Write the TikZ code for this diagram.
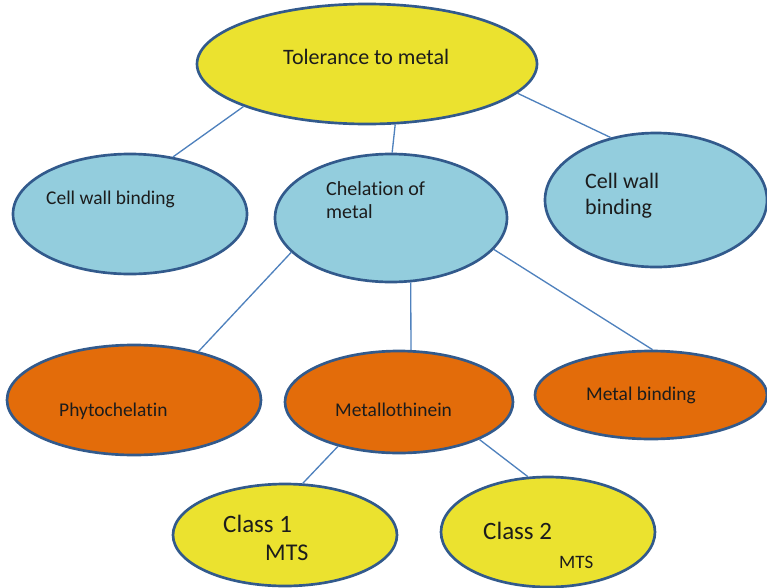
\documentclass[tikz,border=0pt]{standalone}
\usepackage{fontspec}
\setmainfont{Carlito}[Ligatures=NoCommon]
\usetikzlibrary{shapes.geometric}
\definecolor{yel}{HTML}{EBE22F}
\definecolor{sky}{HTML}{93CDDD}
\definecolor{rust}{HTML}{E36C0A}
\definecolor{rim}{HTML}{325A8C}
\definecolor{wire}{HTML}{4F81BD}
\definecolor{ink}{HTML}{1C1C1C}

\begin{document}
\begin{tikzpicture}[
  x=0.3mm, y=-0.3mm,
  every node/.append style={text=ink},
  bubble/.style 2 args={ellipse, draw=rim, line width=0.8mm, inner sep=0pt,
    minimum width=#1*0.6mm, minimum height=#2*0.6mm},
  link/.style={draw=wire, line width=0.4mm},
  lbl/.style={anchor=base west, inner sep=0pt, font=\fontsize{16.6}{20}\selectfont},
  lblbig/.style={lbl, font=\fontsize{18.8}{22}\selectfont},
  lblcls/.style={lbl, font=\fontsize{21.3}{25}\selectfont},
]
\useasboundingbox (0,0) rectangle (767,587);
% --- root ---
\node[bubble={170}{60}, fill=yel] (tol) at (367,64) {};
\node[lblbig] (t-tol) at (283,64) {Tolerance to metal};
% --- second row ---
\node[bubble={117}{60}, fill=sky] (cwl) at (130,214) {};
\node[lbl] (t-cwl) at (46,204) {Cell wall binding};
\node[bubble={116}{64}, fill=sky] (chel) at (391,218) {};
\node[lbl, font=\fontsize{17.1}{20}\selectfont] (t-chel1) at (326,195) {Chelation of};
\node[lbl, font=\fontsize{17.1}{20}\selectfont] (t-chel2) at (326,218) {metal};
\node[bubble={111}{67}, fill=sky] (cwr) at (656,200) {};
\node[lblbig] (t-cwr1) at (585,188) {Cell wall};
\node[lblbig] (t-cwr2) at (585,214) {binding};
% --- third row ---
\node[bubble={127}{55}, fill=rust] (phy) at (134,400) {};
\node[lbl] (t-phy) at (59,416) {Phytochelatin};
\node[bubble={114}{51}, fill=rust] (mt) at (399,402) {};
\node[lbl] (t-mt) at (335,416) {Metallothinein};
\node[bubble={116}{44}, fill=rust] (mb) at (651,395) {};
\node[lbl] (t-mb) at (586,400) {Metal binding};
% --- classes ---
\node[bubble={112}{51}, fill=yel] (c1) at (285,535) {};
\node[lblcls] (t-c1a) at (223,532) {Class 1};
\node[lbl, font=\fontsize{20.5}{24}\selectfont] (t-c1b) at (265,560) {MTS};
\node[bubble={107}{55}, fill=yel] (c2) at (548,532) {};
\node[lblcls] (t-c2a) at (483,539) {Class 2};
\node[lbl, font=\fontsize{16.2}{19}\selectfont] (t-c2b) at (559,568) {MTS};
% --- connectors ---
\draw[link] (tol.199.8) -- (cwl.53.9);
\draw[link] (tol.295) -- (chel.89);
\draw[link] (tol.349.4) -- (cwr.126.9);
\draw[link] (chel.199.1) -- (phy.37.1);
\draw[link] (chel.287.4) -- (mt.77.8);
\draw[link] (chel.343.2) -- (mb.88.7);
\draw[link] (mt.216.6) -- (c1.71.2);
\draw[link] (mt.335.7) -- (c2.110.9);
\end{tikzpicture}
\end{document}
